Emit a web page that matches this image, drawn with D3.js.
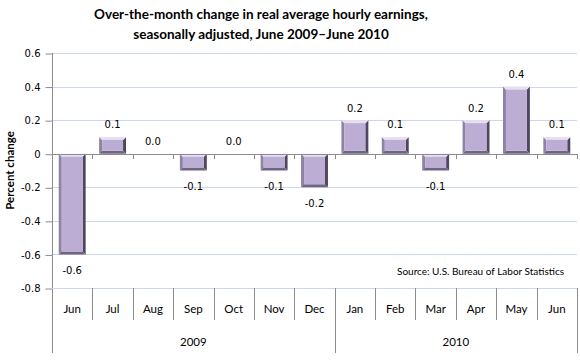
<!DOCTYPE html>
<html>
<head>
<meta charset="utf-8">
<script src="https://cdn.jsdelivr.net/npm/d3@7"></script>
<style>
  body { margin: 0; background: #fff; }
  svg { display: block; }
</style>
</head>
<body>
<div id="chart-area"></div>
<script>
// data
let months = ["Jun", "Jul", "Aug", "Sep", "Oct", "Nov", "Dec", "Jan", "Feb", "Mar", "Apr", "May", "Jun"];
let years = ["2009", "2009", "2009", "2009", "2009", "2009", "2009", "2010", "2010", "2010", "2010", "2010", "2010"];
let values = [-0.6, 0.1, 0.0, -0.1, 0.0, -0.1, -0.2, 0.2, 0.1, -0.1, 0.2, 0.4, 0.1];
let yTicks = [0.6, 0.4, 0.2, 0, -0.2, -0.4, -0.6, -0.8];

let width = 580,
    height = 360;
let margin = { left: 52, right: 3, top: 53, bottom: 72 };

// hyphen instead of unicode minus, like the original
let fmt = d => d3.format(".1f")(d).replace("\u2212", "-");

let svg = d3.select("#chart-area")
    .append("svg")
    .attr("width", width)
    .attr("height", height);

let x = d3.scaleBand()
    .domain(d3.range(months.length))
    .range([margin.left, width - margin.right])
    .paddingInner(1 / 3)
    .paddingOuter(1 / 6);

let y = d3.scaleLinear()
    .domain([-0.8, 0.6])
    .range([height - margin.bottom, margin.top]);

// gridlines
svg.append("g")
    .selectAll("line")
    .data(yTicks.filter(d => d !== 0))
    .enter()
    .append("line")
    .attr("x1", margin.left)
    .attr("x2", width - margin.right)
    .attr("y1", d => Math.round(y(d)) + 0.5)
    .attr("y2", d => Math.round(y(d)) + 0.5)
    .attr("stroke", "#ccd6ee")
    .attr("stroke-width", 1);

// y axis
let yAxis = d3.axisLeft(y)
    .tickValues(yTicks)
    .tickSize(7)
    .tickPadding(5)
    .tickFormat(d => d === 0 ? "0" : fmt(d));

let gy = svg.append("g")
    .attr("transform", "translate(" + (margin.left + 0.5) + ",0.5)")
    .call(yAxis);
gy.select(".domain").remove();
gy.selectAll(".tick line").attr("stroke", "#8c8c8c");
gy.selectAll(".tick text")
    .attr("fill", "#000")
    .style("font-family", "DejaVu Sans")
    .style("font-size", "10px");

// left axis line running down through category rows
svg.append("line")
    .attr("x1", margin.left + 0.5)
    .attr("x2", margin.left + 0.5)
    .attr("y1", y(0.6))
    .attr("y2", 353)
    .attr("stroke", "#8c8c8c");

// bars with bevel look
let bars = svg.append("g")
    .selectAll("g")
    .data(values)
    .enter()
    .append("g")
    .attr("transform", (d, i) => "translate(" + x(i) + ",0)");

let bw = x.bandwidth();
let bev = 3;

bars.each(function(d) {
    let g = d3.select(this);
    let y0 = y(Math.max(0, d)),
        y1 = y(Math.min(0, d));
    let h = y1 - y0;
    if (h < 1) return;
    let b = Math.min(bev, h / 2);
    // left side
    g.append("polygon")
        .attr("points", [[0, y0], [b, y0 + b], [b, y1 - b], [0, y1]].join(" "))
        .attr("fill", "#8f83a3");
    // right side
    g.append("polygon")
        .attr("points", [[bw, y0], [bw - b, y0 + b], [bw - b, y1 - b], [bw, y1]].join(" "))
        .attr("fill", "#4f4760");
    // top
    g.append("polygon")
        .attr("points", [[0, y0], [bw, y0], [bw - b, y0 + b], [b, y0 + b]].join(" "))
        .attr("fill", "#e6def2");
    // bottom
    g.append("polygon")
        .attr("points", [[0, y1], [bw, y1], [bw - b, y1 - b], [b, y1 - b]].join(" "))
        .attr("fill", "#6f6483");
    // face
    g.append("rect")
        .attr("x", b)
        .attr("y", y0 + b)
        .attr("width", bw - 2 * b)
        .attr("height", Math.max(0, h - 2 * b))
        .attr("fill", "#bbadd4");
});

// zero line and ticks
svg.append("line")
    .attr("x1", margin.left)
    .attr("x2", width - margin.right)
    .attr("y1", Math.round(y(0)) + 0.5)
    .attr("y2", Math.round(y(0)) + 0.5)
    .attr("stroke", "#8c8c8c");

let step = x.step();
let edges = d3.range(months.length + 1).map(i => margin.left + i * step);

svg.append("g")
    .selectAll("line")
    .data(edges.slice(1))
    .enter()
    .append("line")
    .attr("x1", d => Math.round(d) + 0.5)
    .attr("x2", d => Math.round(d) + 0.5)
    .attr("y1", Math.round(y(0)))
    .attr("y2", Math.round(y(0)) + 5)
    .attr("stroke", "#8c8c8c");

// data labels
svg.append("g")
    .selectAll("text")
    .data(values)
    .enter()
    .append("text")
    .attr("x", (d, i) => x(i) + bw / 2)
    .attr("y", d => d < 0 ? y(d) + 19.5 : y(d) - 8.5)
    .attr("text-anchor", "middle")
    .style("font-family", "DejaVu Sans")
    .style("font-size", "10px")
    .text(d => fmt(d));

// category rows
let catTop = y(-0.8);
svg.append("line")
    .attr("x1", margin.left)
    .attr("x2", width - margin.right)
    .attr("y1", Math.round(catTop) + 0.5)
    .attr("y2", Math.round(catTop) + 0.5)
    .attr("stroke", "#ccd6ee");

svg.append("g")
    .selectAll("line")
    .data(edges.slice(1))
    .enter()
    .append("line")
    .attr("x1", d => Math.round(d) + 0.5)
    .attr("x2", d => Math.round(d) + 0.5)
    .attr("y1", catTop)
    .attr("y2", (d, i) => (i === 6 || i === 12) ? 353 : 320)
    .attr("stroke", "#8c8c8c");

svg.append("g")
    .selectAll("text")
    .data(months)
    .enter()
    .append("text")
    .attr("x", (d, i) => x(i) + bw / 2)
    .attr("y", 313)
    .attr("text-anchor", "middle")
    .style("font-family", "Lato")
    .style("font-size", "11.5px")
    .text(d => d);

let yearNames = Array.from(new Set(years));
svg.append("g")
    .selectAll("text")
    .data(yearNames)
    .enter()
    .append("text")
    .attr("x", yr => {
        let idx = years.map((v, i) => v === yr ? i : -1).filter(i => i >= 0);
        return (edges[idx[0]] + edges[idx[idx.length - 1] + 1]) / 2;
    })
    .attr("y", 346)
    .attr("text-anchor", "middle")
    .style("font-family", "Lato")
    .style("font-size", "11.5px")
    .text(d => d);

// titles
svg.append("text")
    .attr("x", 261)
    .attr("y", 19)
    .attr("text-anchor", "middle")
    .style("font-family", "Lato")
    .style("font-weight", "bold")
    .style("font-size", "13.5px")
    .text("Over-the-month change in real average hourly earnings,");

svg.append("text")
    .attr("x", 261)
    .attr("y", 39)
    .attr("text-anchor", "middle")
    .style("font-family", "Lato")
    .style("font-weight", "bold")
    .style("font-size", "13.5px")
    .text("seasonally adjusted, June 2009\u2013June 2010");

svg.append("text")
    .attr("transform", "translate(14," + ((y(0.6) + y(-0.8)) / 2) + ") rotate(-90)")
    .attr("text-anchor", "middle")
    .style("font-family", "Lato")
    .style("font-weight", "bold")
    .style("font-size", "11.5px")
    .text("Percent change");

svg.append("text")
    .attr("x", 564)
    .attr("y", 275)
    .attr("text-anchor", "end")
    .style("font-family", "Lato")
    .style("font-size", "10px")
    .text("Source: U.S. Bureau of Labor Statistics");
</script>
</body>
</html>
